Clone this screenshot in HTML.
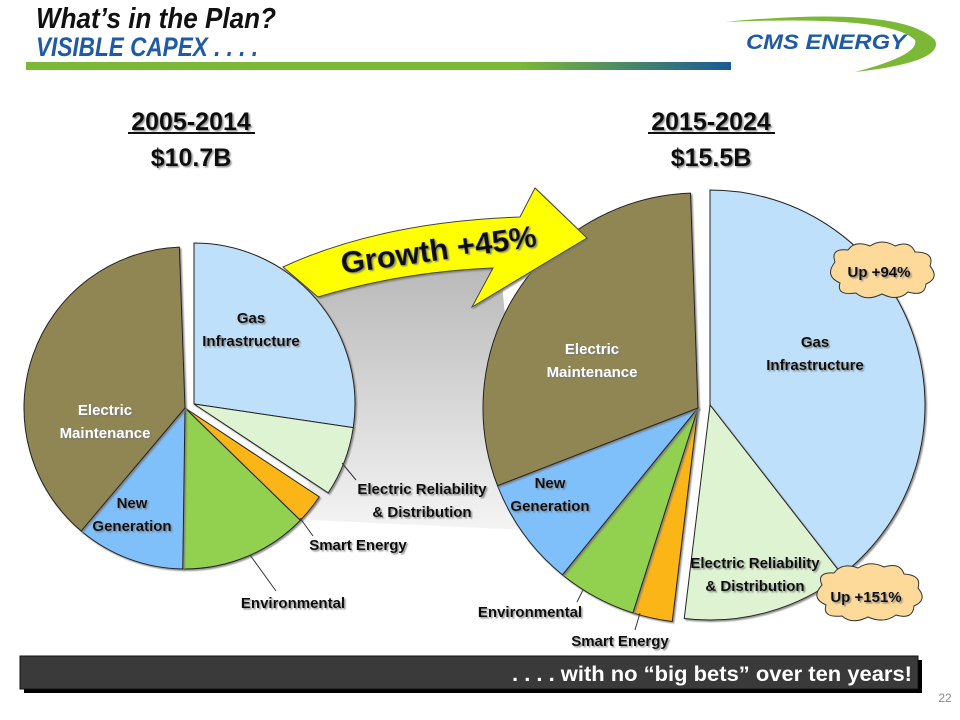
<!DOCTYPE html>
<html><head><meta charset="utf-8"><style>
html,body{margin:0;padding:0;background:#fff}
svg{display:block;font-family:"Liberation Sans",sans-serif;font-weight:bold}
</style></head><body>
<svg width="960" height="720" viewBox="0 0 960 720">
<defs>
<linearGradient id="rule" x1="0" x2="1" y1="0" y2="0"><stop offset="0" stop-color="#7ab836"/><stop offset="0.7" stop-color="#7ab836"/><stop offset="1" stop-color="#1a5a96"/></linearGradient>
<linearGradient id="band" x1="0" x2="0" y1="0" y2="1"><stop offset="0" stop-color="#b8b8b8"/><stop offset="1" stop-color="#f4f4f4"/></linearGradient>
<filter id="sh" x="-10%" y="-10%" width="130%" height="140%"><feDropShadow dx="1.5" dy="1.5" stdDeviation="0.8" flood-color="#777" flood-opacity="0.8"/></filter>
</defs>
<g>
<text x="36" y="28" font-size="29" font-style="italic" textLength="240" lengthAdjust="spacingAndGlyphs" fill="#111">What’s in the Plan?</text>
<text x="36" y="56" font-size="27" font-style="italic" textLength="222" lengthAdjust="spacingAndGlyphs" fill="#1f5aa6">VISIBLE CAPEX . . . .</text>
<rect x="26" y="62" width="705" height="8" fill="url(#rule)"/>
<g>
<path d="M725 22 Q900 5 935 40 Q945 62 855 72 Q920 55 915 40 Q890 15 725 22Z" fill="#7ab836"/>
<text x="746" y="49" font-size="21" font-style="italic" fill="#1f5aa6" textLength="160" lengthAdjust="spacingAndGlyphs">CMS ENERGY</text>
</g>
</g>
<g>
<text x="191" y="130" font-size="25" text-anchor="middle" fill="#111" filter="url(#sh)">2005-2014</text>
<rect x="128" y="132" width="127" height="2" fill="#111"/>
<text x="191" y="166" font-size="25" text-anchor="middle" fill="#111" filter="url(#sh)">$10.7B</text>
<text x="711" y="130" font-size="25" text-anchor="middle" fill="#111" filter="url(#sh)">2015-2024</text>
<rect x="648" y="132" width="127" height="2" fill="#111"/>
<text x="711" y="166" font-size="25" text-anchor="middle" fill="#111" filter="url(#sh)">$15.5B</text>
</g>
<path d="M300 290 Q400 268 500 262 L525 530 L310 520 Z" fill="url(#band)"/>
<g id="pies"></g>
<g>
<path d="M283 267 Q380 222 520 217 L535 188 L587 238 L472 307 L493 268 Q400 272 318 297 Z" fill="#ffff00" stroke="#444" stroke-width="1" filter="url(#sh)"/>
<text x="0" y="0" font-size="31" fill="#111" transform="translate(440,260) rotate(-8)" text-anchor="middle" filter="url(#sh)">Growth +45%</text>
</g>
<g id="labels" font-size="15" text-anchor="middle"></g>
<g>
<path d="M835 262 Q830 248 848 250 Q855 240 870 246 Q882 238 895 246 Q910 240 915 252 Q935 252 930 266 Q940 278 926 284 Q925 297 908 292 Q898 302 882 294 Q866 302 856 293 Q836 296 840 283 Q824 276 835 262Z" fill="#fdd99a" stroke="#333" stroke-width="1"/>
<text x="879" y="277" font-size="15" text-anchor="middle" fill="#111" filter="url(#sh)">Up +94%</text>
</g>
<g>
<path d="M822 585 Q816 572 834 573 Q842 562 858 568 Q870 560 884 567 Q900 562 904 574 Q922 575 918 588 Q928 600 914 606 Q913 620 896 615 Q884 624 868 617 Q852 625 842 616 Q822 618 826 605 Q810 598 822 585Z" fill="#fdd99a" stroke="#333" stroke-width="1"/>
<text x="866" y="602" font-size="15" text-anchor="middle" fill="#111" filter="url(#sh)">Up +151%</text>
</g>
<g>
<rect x="24" y="660" width="898" height="33" fill="#000"/>
<rect x="20" y="656" width="898" height="33" fill="#3a3a3a" stroke="#111"/>
<text x="912" y="681" font-size="21" text-anchor="end" fill="#fff" textLength="400" lengthAdjust="spacingAndGlyphs">. . . . with no “big bets” over ten years!</text>
</g>
<text x="945" y="702" font-size="12" font-weight="normal" fill="#888" text-anchor="middle">22</text>
</svg>
<script>
const categories = ["Gas Infrastructure","Electric Reliability & Distribution","Smart Energy","Environmental","New Generation","Electric Maintenance"];
const leftValues = [27.5, 7, 3, 13, 11, 38.5];
const rightValues = [39.7, 12.5, 3, 6, 8.3, 30.5];
const colors = ["#bfe0fb","#def3d1","#fbb514","#92d050","#7fbffa","#8f8653"];
const NS = "http://www.w3.org/2000/svg";
const pies = document.getElementById('pies');
function pt(cx,cy,r,a){const t=a*Math.PI/180;return [cx+r*Math.sin(t),cy-r*Math.cos(t)];}
function drawPie(vals,cx,cy,r,explode,offset,name){
  const total=vals.reduce((a,b)=>a+b,0);
  let a=0;
  vals.forEach((v,i)=>{
    const a0=a, a1=a+v/total*358; a=a1;
    const ox=explode.includes(i)?offset[0]:0, oy=explode.includes(i)?offset[1]:0;
    const p0=pt(cx+ox,cy+oy,r,a0), p1=pt(cx+ox,cy+oy,r,a1);
    const path=document.createElementNS(NS,'path');
    path.setAttribute('d',`M${cx+ox} ${cy+oy} L${p0[0]} ${p0[1]} A${r} ${r} 0 ${a1-a0>180?1:0} 1 ${p1[0]} ${p1[1]} Z`);
    path.setAttribute('fill',colors[i]);
    path.setAttribute('stroke','#222');
    path.setAttribute('stroke-width','1');
    path.setAttribute('filter','url(#sh)');
    
    
    pies.appendChild(path);
  });
}
drawPie(leftValues,185,408,161,[0,1],[9,-4],'left-pie');
drawPie(rightValues,698,408,215,[0,1],[12,-3],'right-pie');
const labels=document.getElementById('labels');
const L=[
 ["Gas|Infrastructure",251,323,"#111"],["Electric|Maintenance",105,415,"#fff"],["New|Generation",132,508,"#111"],
 ["Electric Reliability|& Distribution",422,494,"#111"],["Smart Energy",358,550,"#111"],["Environmental",293,608,"#111"],
 ["Electric|Maintenance",592,354,"#fff"],["Gas|Infrastructure",815,347,"#111"],["New|Generation",550,488,"#111"],
 ["Electric Reliability|& Distribution",755,568,"#111"],["Environmental",530,617,"#111"],["Smart Energy",620,646,"#111"]];
L.forEach(l=>{
  l[0].split('|').forEach((s,k)=>{
    const t=document.createElementNS(NS,'text');
    t.setAttribute('x',l[1]);t.setAttribute('y',l[2]+k*23);
    t.setAttribute('fill',l[3]);t.setAttribute('filter','url(#sh)');
    
    
    t.textContent=s;labels.appendChild(t);
  });
});
[[342,463,356,480],[300,518,313,536],[250,555,276,591],[583,590,577,602],[640,613,635,630]].forEach(s=>{
  const ln=document.createElementNS(NS,'line');
  ln.setAttribute('x1',s[0]);ln.setAttribute('y1',s[1]);ln.setAttribute('x2',s[2]);ln.setAttribute('y2',s[3]);
  ln.setAttribute('stroke','#333');
  
  
  labels.appendChild(ln);
});
</script>
</body></html>
